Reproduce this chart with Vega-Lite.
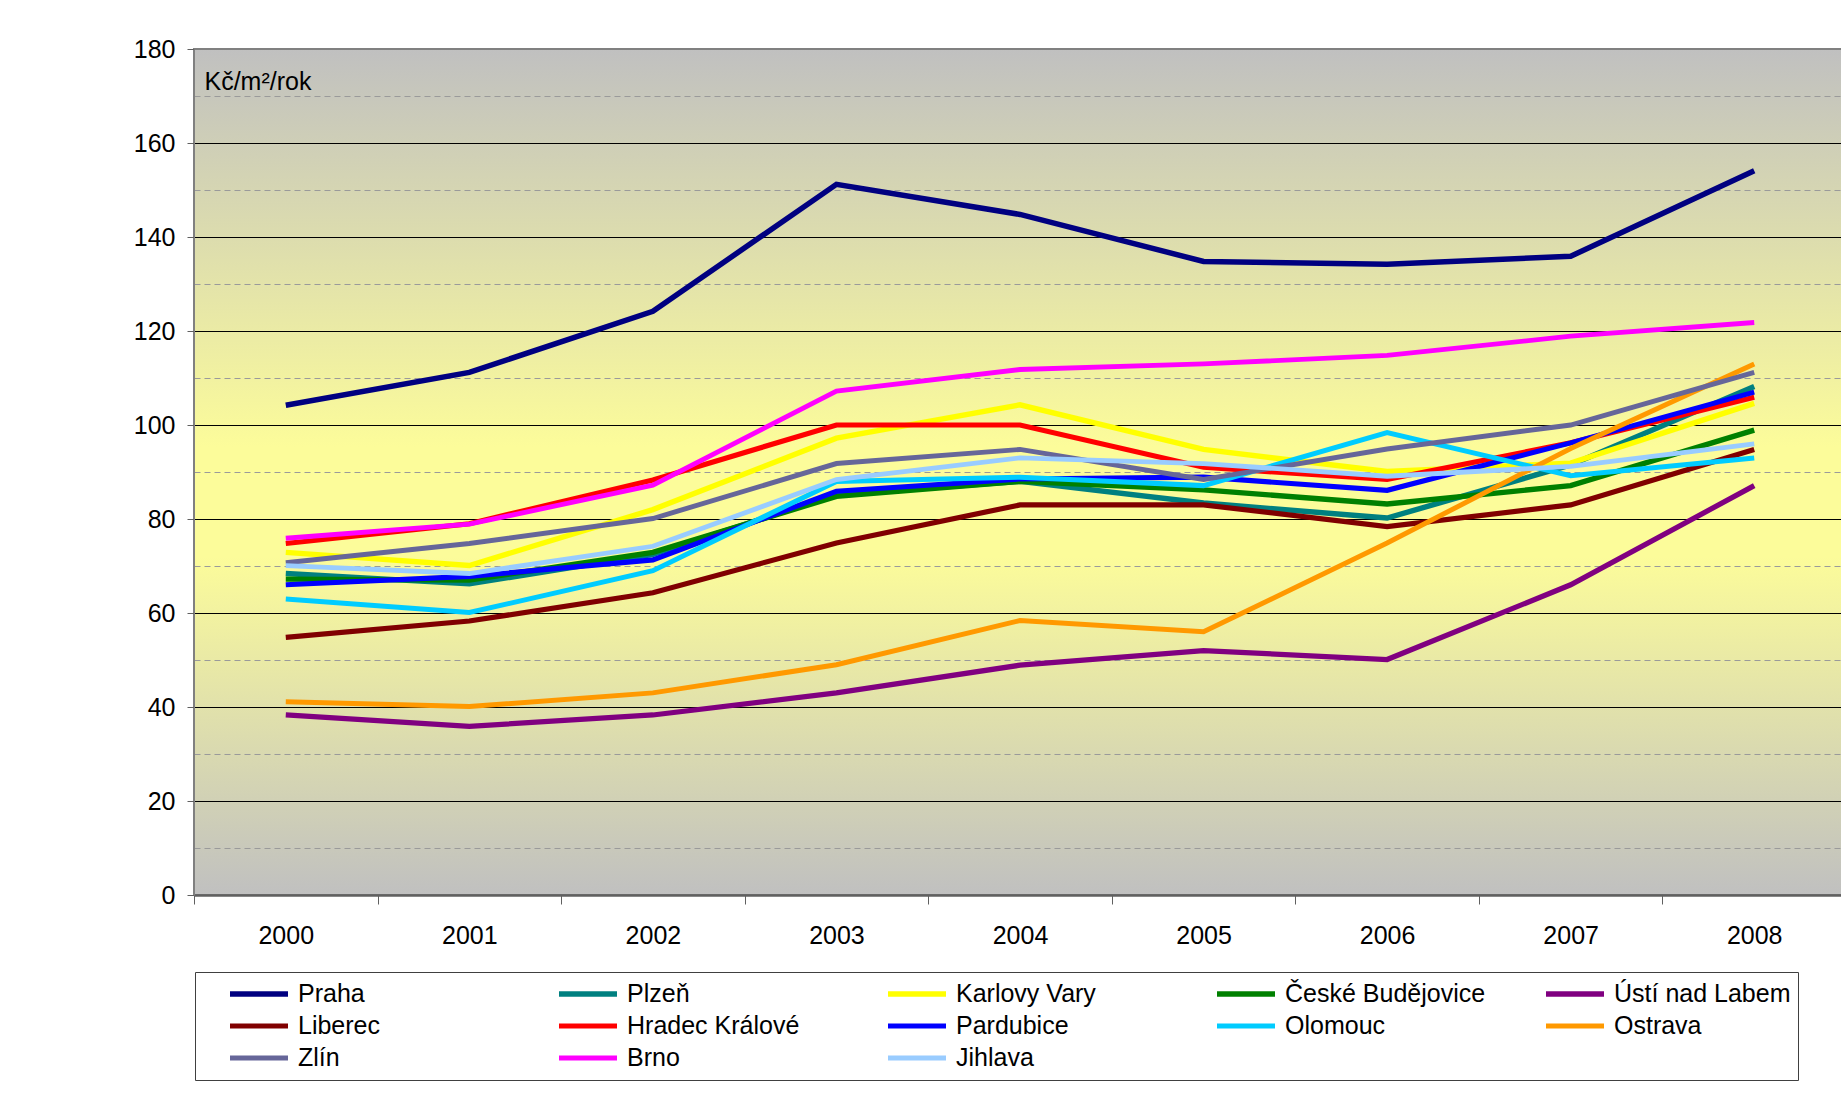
{
  "$schema": "https://vega.github.io/schema/vega-lite/v6.json",
  "width": 1652,
  "height": 846,
  "autosize": {"type": "none"},
  "padding": {"left": 194, "top": 49, "right": 0, "bottom": 201},
  "background": "white",
  "config": {
    "font": "Liberation Sans, Arial, sans-serif",
    "view": {
      "stroke": "#808080",
      "strokeWidth": 2,
      "fill": {
        "gradient": "linear",
        "x1": 0, "y1": 0, "x2": 0, "y2": 1,
        "stops": [
          {"offset": 0, "color": "#C0C0C0"},
          {"offset": 0.47, "color": "#FCFC9A"},
          {"offset": 0.6, "color": "#FCFC9A"},
          {"offset": 1, "color": "#C0C0C0"}
        ]
      }
    },
    "axis": {"labelColor": "black", "labelFontSize": 25, "titleColor": "black"}
  },
  "data": {
    "values": [
      {"city": "Praha", "year": "2000", "value": 104.2}, {"city": "Praha", "year": "2001", "value": 111.2}, {"city": "Praha", "year": "2002", "value": 124.2}, {"city": "Praha", "year": "2003", "value": 151.2}, {"city": "Praha", "year": "2004", "value": 144.8}, {"city": "Praha", "year": "2005", "value": 134.8}, {"city": "Praha", "year": "2006", "value": 134.2}, {"city": "Praha", "year": "2007", "value": 135.9}, {"city": "Praha", "year": "2008", "value": 154.1},
      {"city": "Plzeň", "year": "2000", "value": 68.4}, {"city": "Plzeň", "year": "2001", "value": 66.2}, {"city": "Plzeň", "year": "2002", "value": 72.5}, {"city": "Plzeň", "year": "2003", "value": 85.2}, {"city": "Plzeň", "year": "2004", "value": 88}, {"city": "Plzeň", "year": "2005", "value": 83.4}, {"city": "Plzeň", "year": "2006", "value": 80.2}, {"city": "Plzeň", "year": "2007", "value": 91.5}, {"city": "Plzeň", "year": "2008", "value": 108.2},
      {"city": "Karlovy Vary", "year": "2000", "value": 72.9}, {"city": "Karlovy Vary", "year": "2001", "value": 70.1}, {"city": "Karlovy Vary", "year": "2002", "value": 82}, {"city": "Karlovy Vary", "year": "2003", "value": 97.2}, {"city": "Karlovy Vary", "year": "2004", "value": 104.3}, {"city": "Karlovy Vary", "year": "2005", "value": 94.8}, {"city": "Karlovy Vary", "year": "2006", "value": 90.1}, {"city": "Karlovy Vary", "year": "2007", "value": 91.9}, {"city": "Karlovy Vary", "year": "2008", "value": 104.6},
      {"city": "České Budějovice", "year": "2000", "value": 67.2}, {"city": "České Budějovice", "year": "2001", "value": 67}, {"city": "České Budějovice", "year": "2002", "value": 72.9}, {"city": "České Budějovice", "year": "2003", "value": 84.8}, {"city": "České Budějovice", "year": "2004", "value": 88}, {"city": "České Budějovice", "year": "2005", "value": 86.2}, {"city": "České Budějovice", "year": "2006", "value": 83.2}, {"city": "České Budějovice", "year": "2007", "value": 87.1}, {"city": "České Budějovice", "year": "2008", "value": 98.9},
      {"city": "Ústí nad Labem", "year": "2000", "value": 38.3}, {"city": "Ústí nad Labem", "year": "2001", "value": 35.9}, {"city": "Ústí nad Labem", "year": "2002", "value": 38.3}, {"city": "Ústí nad Labem", "year": "2003", "value": 43}, {"city": "Ústí nad Labem", "year": "2004", "value": 48.9}, {"city": "Ústí nad Labem", "year": "2005", "value": 52}, {"city": "Ústí nad Labem", "year": "2006", "value": 50.1}, {"city": "Ústí nad Labem", "year": "2007", "value": 66}, {"city": "Ústí nad Labem", "year": "2008", "value": 87.1},
      {"city": "Liberec", "year": "2000", "value": 54.8}, {"city": "Liberec", "year": "2001", "value": 58.3}, {"city": "Liberec", "year": "2002", "value": 64.3}, {"city": "Liberec", "year": "2003", "value": 74.9}, {"city": "Liberec", "year": "2004", "value": 83}, {"city": "Liberec", "year": "2005", "value": 83}, {"city": "Liberec", "year": "2006", "value": 78.4}, {"city": "Liberec", "year": "2007", "value": 83}, {"city": "Liberec", "year": "2008", "value": 94.8},
      {"city": "Hradec Králové", "year": "2000", "value": 74.8}, {"city": "Hradec Králové", "year": "2001", "value": 79}, {"city": "Hradec Králové", "year": "2002", "value": 88.3}, {"city": "Hradec Králové", "year": "2003", "value": 100}, {"city": "Hradec Králové", "year": "2004", "value": 100}, {"city": "Hradec Králové", "year": "2005", "value": 91}, {"city": "Hradec Králové", "year": "2006", "value": 88.4}, {"city": "Hradec Králové", "year": "2007", "value": 96.2}, {"city": "Hradec Králové", "year": "2008", "value": 105.9},
      {"city": "Pardubice", "year": "2000", "value": 66}, {"city": "Pardubice", "year": "2001", "value": 67.8}, {"city": "Pardubice", "year": "2002", "value": 71.3}, {"city": "Pardubice", "year": "2003", "value": 85.9}, {"city": "Pardubice", "year": "2004", "value": 88.5}, {"city": "Pardubice", "year": "2005", "value": 88.9}, {"city": "Pardubice", "year": "2006", "value": 86.1}, {"city": "Pardubice", "year": "2007", "value": 96.2}, {"city": "Pardubice", "year": "2008", "value": 107},
      {"city": "Olomouc", "year": "2000", "value": 63}, {"city": "Olomouc", "year": "2001", "value": 60.1}, {"city": "Olomouc", "year": "2002", "value": 69}, {"city": "Olomouc", "year": "2003", "value": 88}, {"city": "Olomouc", "year": "2004", "value": 88.9}, {"city": "Olomouc", "year": "2005", "value": 87.1}, {"city": "Olomouc", "year": "2006", "value": 98.4}, {"city": "Olomouc", "year": "2007", "value": 89.2}, {"city": "Olomouc", "year": "2008", "value": 93},
      {"city": "Ostrava", "year": "2000", "value": 41.1}, {"city": "Ostrava", "year": "2001", "value": 40.1}, {"city": "Ostrava", "year": "2002", "value": 43}, {"city": "Ostrava", "year": "2003", "value": 49}, {"city": "Ostrava", "year": "2004", "value": 58.4}, {"city": "Ostrava", "year": "2005", "value": 56}, {"city": "Ostrava", "year": "2006", "value": 74.9}, {"city": "Ostrava", "year": "2007", "value": 95}, {"city": "Ostrava", "year": "2008", "value": 113},
      {"city": "Zlín", "year": "2000", "value": 70.7}, {"city": "Zlín", "year": "2001", "value": 74.8}, {"city": "Zlín", "year": "2002", "value": 80.1}, {"city": "Zlín", "year": "2003", "value": 91.8}, {"city": "Zlín", "year": "2004", "value": 94.8}, {"city": "Zlín", "year": "2005", "value": 88.4}, {"city": "Zlín", "year": "2006", "value": 94.9}, {"city": "Zlín", "year": "2007", "value": 100}, {"city": "Zlín", "year": "2008", "value": 111.2},
      {"city": "Brno", "year": "2000", "value": 75.9}, {"city": "Brno", "year": "2001", "value": 78.9}, {"city": "Brno", "year": "2002", "value": 87.2}, {"city": "Brno", "year": "2003", "value": 107.2}, {"city": "Brno", "year": "2004", "value": 111.8}, {"city": "Brno", "year": "2005", "value": 113}, {"city": "Brno", "year": "2006", "value": 114.8}, {"city": "Brno", "year": "2007", "value": 118.9}, {"city": "Brno", "year": "2008", "value": 121.8},
      {"city": "Jihlava", "year": "2000", "value": 70.1}, {"city": "Jihlava", "year": "2001", "value": 68.4}, {"city": "Jihlava", "year": "2002", "value": 74.2}, {"city": "Jihlava", "year": "2003", "value": 88.4}, {"city": "Jihlava", "year": "2004", "value": 93}, {"city": "Jihlava", "year": "2005", "value": 91.8}, {"city": "Jihlava", "year": "2006", "value": 89.1}, {"city": "Jihlava", "year": "2007", "value": 91.2}, {"city": "Jihlava", "year": "2008", "value": 96}
    ]
  },
  "mark": {"type": "line", "strokeJoin": "miter"},
  "encoding": {
    "x": {
      "field": "year",
      "type": "ordinal",
      "scale": {"type": "band", "paddingInner": 0, "paddingOuter": 0},
      "axis": {
        "title": null,
        "labelAngle": 0,
        "tickBand": "extent",
        "tickSize": 9,
        "tickColor": "#606060",
        "labelPadding": 19,
        "domainColor": "#606060",
        "domainWidth": 2.5,
        "grid": false
      }
    },
    "y": {
      "field": "value",
      "type": "quantitative",
      "scale": {"domain": [0, 180], "nice": false},
      "axis": {
        "title": "Kč/m²/rok",
        "titleAngle": 0,
        "titleX": 10,
        "titleY": 40,
        "titleAlign": "left",
        "titleBaseline": "alphabetic",
        "titleFontSize": 25,
        "titleFontWeight": "normal",
        "values": [0, 10, 20, 30, 40, 50, 60, 70, 80, 90, 100, 110, 120, 130, 140, 150, 160, 170, 180],
        "labelExpr": "datum.value % 20 === 0 ? datum.label : ''",
        "labelPadding": 12,
        "tickSize": 7,
        "tickColor": "#606060",
        "tickOpacity": {"condition": {"test": "datum.value % 20 === 0", "value": 1}, "value": 0},
        "domainColor": "#808080",
        "grid": true,
        "gridColor": {"condition": {"test": "datum.value % 20 === 0", "value": "#000000"}, "value": "#9A9A9A"},
        "gridDash": {"condition": {"test": "datum.value % 20 === 0", "value": []}, "value": [6, 4]},
        "gridOpacity": {"condition": {"test": "datum.value === 0 || datum.value === 180", "value": 0}, "value": 1},
        "gridWidth": 1.2
      }
    },
    "color": {
      "field": "city",
      "type": "nominal",
      "scale": {
        "domain": ["Praha", "Plzeň", "Karlovy Vary", "České Budějovice", "Ústí nad Labem", "Liberec", "Hradec Králové", "Pardubice", "Olomouc", "Ostrava", "Zlín", "Brno", "Jihlava"],
        "range": ["#000080", "#008080", "#FFFF00", "#008000", "#800080", "#800000", "#FF0000", "#0000FF", "#00CCFF", "#FF9900", "#666699", "#FF00FF", "#99CCFF"]
      },
      "legend": {
        "title": null,
        "orient": "none",
        "legendX": 1,
        "legendY": 923,
        "direction": "horizontal",
        "columns": 5,
        "gridAlign": "all",
        "columnPadding": 32,
        "rowPadding": 2,
        "padding": 7,
        "clipHeight": 30,
        "symbolType": "stroke",
        "symbolSize": 3364,
        "symbolStrokeWidth": 5,
        "symbolOffset": 25,
        "labelOffset": 7,
        "labelLimit": 400,
        "labelFontSize": 25,
        "labelColor": "black",
        "strokeColor": "#404040",
        "fillColor": "white"
      }
    },
    "strokeWidth": {
      "field": "city",
      "type": "nominal",
      "scale": {
        "domain": ["Praha", "Plzeň", "Karlovy Vary", "České Budějovice", "Ústí nad Labem", "Liberec", "Hradec Králové", "Pardubice", "Olomouc", "Ostrava", "Zlín", "Brno", "Jihlava"],
        "range": [5.5, 4.8, 4.8, 7, 4.8, 4.8, 4.8, 5.5, 4.8, 4.8, 4.8, 4.8, 4.8]
      },
      "legend": null
    }
  }
}
